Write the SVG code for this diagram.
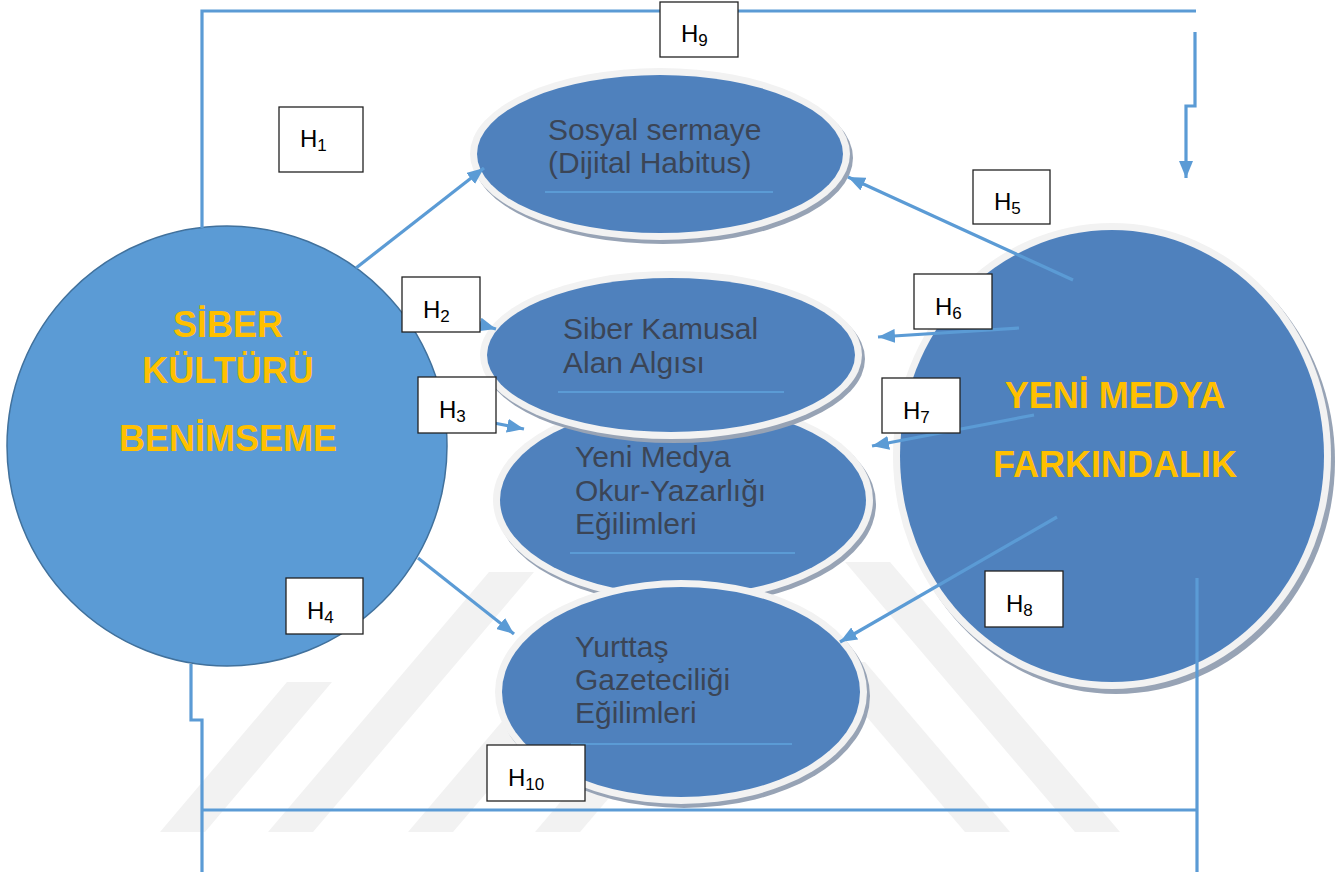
<svg xmlns="http://www.w3.org/2000/svg" width="1344" height="878" viewBox="0 0 1344 878">
<defs>
<style>
.wm{fill:#F2F2F2}
.conn{fill:none;stroke:#5B9BD5;stroke-width:3.2}
.arr{marker-end:url(#ah)}
.shadow{fill:#97A3B5}
.ring{fill:#F2F2F2}
.blue{fill:#4F81BD}
.etxt{font-family:"Liberation Sans",Arial,sans-serif;font-size:30px;fill:#3B4556}
.uline{stroke:#5B9BD5;stroke-width:2}
.big{font-family:"Liberation Sans",Arial,sans-serif;font-size:36px;font-weight:bold;fill:#FFC000;text-anchor:middle}
.box{fill:#FFFFFF;stroke:#222222;stroke-width:1.3}
.h{font-family:"Liberation Sans",Arial,sans-serif;font-size:24px;fill:#000000}
.sub{font-size:17px}
</style>
<marker id="ah" markerUnits="userSpaceOnUse" markerWidth="18" markerHeight="14" refX="17" refY="7" orient="auto">
<path d="M0,0 L17,7 L0,14 Z" fill="#5B9BD5"/>
</marker>
</defs>
<rect width="1344" height="878" fill="#FFFFFF"/>
<g id="watermark">
<polygon class="wm" points="160,832 205,832 332,682 287,682"/>
<polygon class="wm" points="268,832 313,832 534,572 489,572"/>
<polygon class="wm" points="408,832 453,832 623,632 578,632"/>
<polygon class="wm" points="535,832 580,832 682,712 637,712"/>
<polygon class="wm" points="1075,832 1120,832 890,562 845,562"/>
<polygon class="wm" points="965,832 1010,832 865,662 820,662"/>
</g>
<g id="node-siber-kultur">
<circle cx="227" cy="446" r="220" fill="#5B9BD5" stroke="#41719C" stroke-width="1.5"/>
<text class="big" x="228" y="337">SİBER</text>
<text class="big" x="228" y="383">KÜLTÜRÜ</text>
<text class="big" x="228" y="451">BENİMSEME</text>
</g>
<g id="node-yeni-medya-farkindalik">
<ellipse class="shadow" cx="1116" cy="461" rx="219" ry="233"/>
<ellipse class="ring" cx="1112" cy="456" rx="219" ry="233"/>
<ellipse class="blue" cx="1112" cy="456" rx="212" ry="226"/>
<text class="big" x="1115" y="408">YENİ MEDYA</text>
<text class="big" x="1115" y="477">FARKINDALIK</text>
</g>
<g id="node-okur-yazarlik">
<ellipse class="shadow" cx="686" cy="504" rx="190" ry="102"/>
<ellipse class="ring" cx="683" cy="500" rx="190" ry="102"/>
<ellipse class="blue" cx="683" cy="500" rx="183" ry="95"/>
<text class="etxt" x="575" y="467">Yeni Medya</text>
<text class="etxt" x="575" y="501">Okur-Yazarlığı</text>
<text class="etxt" x="575" y="534">Eğilimleri</text>
<line class="uline" x1="570" y1="553" x2="795" y2="553"/>
</g>
<g id="node-yurttas">
<ellipse class="shadow" cx="684" cy="696" rx="186" ry="112"/>
<ellipse class="ring" cx="681" cy="692" rx="186" ry="112"/>
<ellipse class="blue" cx="681" cy="692" rx="179" ry="105"/>
<text class="etxt" x="575" y="657">Yurttaş</text>
<text class="etxt" x="575" y="690">Gazeteciliği</text>
<text class="etxt" x="575" y="723">Eğilimleri</text>
<line class="uline" x1="571" y1="744" x2="792" y2="744"/>
</g>
<g id="node-siber-kamusal">
<ellipse class="shadow" cx="674" cy="359" rx="191" ry="84"/>
<ellipse class="ring" cx="671" cy="355" rx="191" ry="84"/>
<ellipse class="blue" cx="671" cy="355" rx="184" ry="77"/>
<text class="etxt" x="563" y="339">Siber Kamusal</text>
<text class="etxt" x="563" y="373">Alan Algısı</text>
<line class="uline" x1="558" y1="392" x2="784" y2="392"/>
</g>
<g id="node-sosyal-sermaye">
<ellipse class="shadow" cx="663" cy="158" rx="190" ry="86"/>
<ellipse class="ring" cx="660" cy="154" rx="190" ry="86"/>
<ellipse class="blue" cx="660" cy="154" rx="183" ry="79"/>
<text class="etxt" x="548" y="140">Sosyal sermaye</text>
<text class="etxt" x="548" y="173">(Dijital Habitus)</text>
<line class="uline" x1="545" y1="192" x2="773" y2="192"/>
</g>
<g id="connectors">
<path class="conn" d="M202,228 V11 H1196"/>
<path class="conn arr" d="M1195,32 V106 H1186 V178"/>
<path class="conn" d="M191,664 V720 H202 V872"/>
<path class="conn" d="M202,810 H1197"/>
<path class="conn" d="M1197,578 V872"/>
<line class="conn arr" x1="356" y1="268" x2="484" y2="168"/>
<line class="conn arr" x1="478" y1="324" x2="496" y2="329"/>
<line class="conn arr" x1="494" y1="423" x2="524" y2="429"/>
<line class="conn arr" x1="418" y1="558" x2="514" y2="634"/>
<line class="conn arr" x1="1073" y1="280" x2="848" y2="177"/>
<line class="conn arr" x1="1019" y1="328" x2="878" y2="337"/>
<line class="conn arr" x1="1034" y1="415" x2="872" y2="446"/>
<line class="conn arr" x1="1057" y1="517" x2="840" y2="642"/>
</g>
<g id="label-h1"><rect class="box" x="279" y="107" width="84" height="65"/><text class="h" x="300" y="147">H<tspan class="sub" dy="4">1</tspan></text></g>
<g id="label-h2"><rect class="box" x="402" y="277" width="78" height="55"/><text class="h" x="423" y="318">H<tspan class="sub" dy="4">2</tspan></text></g>
<g id="label-h3"><rect class="box" x="418" y="377" width="78" height="56"/><text class="h" x="439" y="418">H<tspan class="sub" dy="4">3</tspan></text></g>
<g id="label-h4"><rect class="box" x="286" y="578" width="77" height="56"/><text class="h" x="307" y="619">H<tspan class="sub" dy="4">4</tspan></text></g>
<g id="label-h5"><rect class="box" x="973" y="170" width="77" height="54"/><text class="h" x="994" y="210">H<tspan class="sub" dy="4">5</tspan></text></g>
<g id="label-h6"><rect class="box" x="914" y="274" width="78" height="55"/><text class="h" x="935" y="315">H<tspan class="sub" dy="4">6</tspan></text></g>
<g id="label-h7"><rect class="box" x="882" y="378" width="78" height="55"/><text class="h" x="903" y="419">H<tspan class="sub" dy="4">7</tspan></text></g>
<g id="label-h8"><rect class="box" x="985" y="571" width="78" height="56"/><text class="h" x="1006" y="612">H<tspan class="sub" dy="4">8</tspan></text></g>
<g id="label-h9"><rect class="box" x="660" y="2" width="78" height="55"/><text class="h" x="681" y="42">H<tspan class="sub" dy="4">9</tspan></text></g>
<g id="label-h10"><rect class="box" x="487" y="745" width="98" height="56"/><text class="h" x="508" y="786">H<tspan class="sub" dy="4">10</tspan></text></g>
</svg>
